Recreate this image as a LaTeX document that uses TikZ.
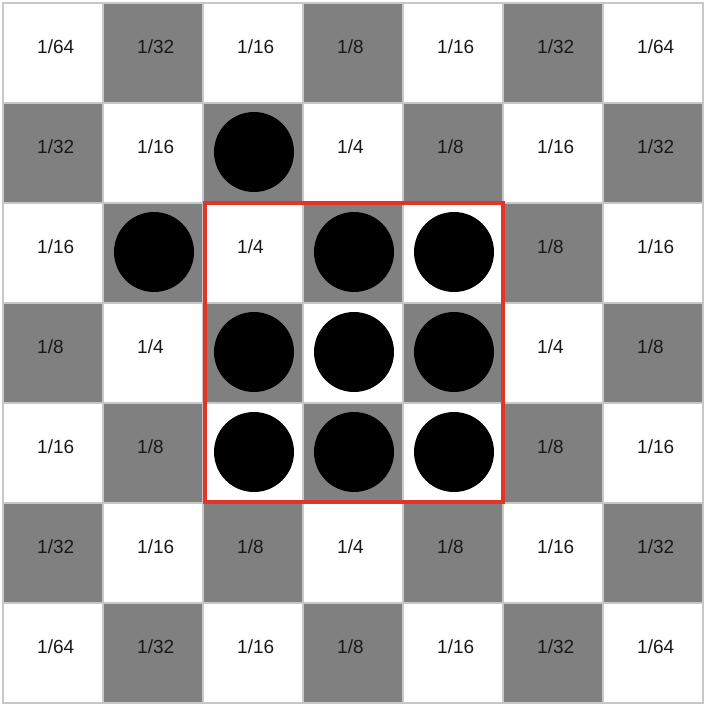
\documentclass[tikz,border=0pt]{standalone}
\usepackage{fontspec}
\setmainfont{Liberation Sans}
\definecolor{cellgray}{RGB}{128,128,128}
\definecolor{gridline}{RGB}{200,200,200}
\definecolor{boxred}{RGB}{228,52,38}
\definecolor{txt}{RGB}{25,25,25}
\begin{document}
\begin{tikzpicture}[x=1pt,y=-1pt,
  cellw/.style={fill=white,draw=gridline,line width=1.5pt},
  cellg/.style={fill=cellgray,draw=gridline,line width=1.5pt},
  lbl/.style={anchor=base west,inner sep=0pt,text=txt,font=\fontsize{19}{19}\selectfont},
  stone/.style={circle,fill=black,minimum size=80pt,inner sep=0pt},
  window/.style={draw=boxred,line width=4pt}]
\useasboundingbox (0,0) rectangle (706,704);
\fill[white] (0,0) rectangle (706,704);
% checkerboard
\foreach \r in {0,...,6}{
  \foreach \c in {0,...,6}{
    \pgfmathtruncatemacro{\parity}{mod(\r+\c,2)}
    \ifnum\parity=0
      \draw[cellw] (3+100*\c,3+100*\r) rectangle (103+100*\c,103+100*\r);
    \else
      \draw[cellg] (3+100*\c,3+100*\r) rectangle (103+100*\c,103+100*\r);
    \fi
    \coordinate (c\r\c) at (53+100*\c,53+100*\r);
  }
}
% labels: row/col/text
\foreach \r/\c/\t in {
  0/0/1\slash 64,0/1/1\slash 32,0/2/1\slash 16,0/3/1\slash 8,0/4/1\slash 16,0/5/1\slash 32,0/6/1\slash 64,
  1/0/1\slash 32,1/1/1\slash 16,1/3/1\slash 4,1/4/1\slash 8,1/5/1\slash 16,1/6/1\slash 32,
  2/0/1\slash 16,2/2/1\slash 4,2/5/1\slash 8,2/6/1\slash 16,
  3/0/1\slash 8,3/1/1\slash 4,3/5/1\slash 4,3/6/1\slash 8,
  4/0/1\slash 16,4/1/1\slash 8,4/5/1\slash 8,4/6/1\slash 16,
  5/0/1\slash 32,5/1/1\slash 16,5/2/1\slash 8,5/3/1\slash 4,5/4/1\slash 8,5/5/1\slash 16,5/6/1\slash 32,
  6/0/1\slash 64,6/1/1\slash 32,6/2/1\slash 16,6/3/1\slash 8,6/4/1\slash 16,6/5/1\slash 32,6/6/1\slash 64}{
  \node[lbl] (t\r\c) at (37+100*\c,53+100*\r) {\t};
}
% stones
\foreach \r/\c in {1/2,2/1,2/3,2/4,3/2,3/3,3/4,4/2,4/3,4/4}{
  \node[stone] (s\r\c) at (54+100*\c,152+100*\r-100) {};
}
% red window
\draw[window] (205,203) rectangle (503,501.5);
\end{tikzpicture}
\end{document}
